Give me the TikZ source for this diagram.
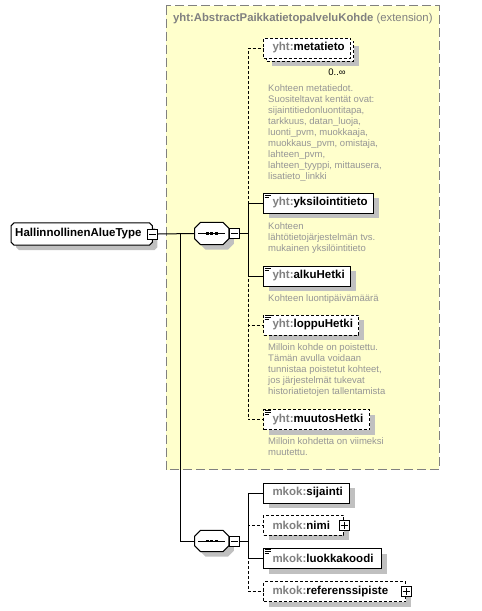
\documentclass[tikz,border=0pt]{standalone}
\usepackage{fontspec}
\setmainfont{Liberation Sans}
\usetikzlibrary{shadows,calc}
\definecolor{ylw}{RGB}{255,255,204}
\definecolor{pfx}{RGB}{128,128,128}
\definecolor{descc}{RGB}{150,150,150}
\definecolor{shd}{RGB}{192,192,192}
\newcommand\elab[2]{\hspace*{9pt}\textcolor{pfx}{#1:}#2}
% octagon (chamfered) outline around a node: [opts]{node}{chamfer}{offset}
\newcommand\octo[4][]{%
  \path[#1] ($(#2.north west)+(#3+#4,#4)$) -- ($(#2.north east)+(-#3+#4,#4)$)
    -- ($(#2.north east)+(#4,#3+#4)$) -- ($(#2.south east)+(#4,-#3+#4)$)
    -- ($(#2.south east)+(-#3+#4,#4)$) -- ($(#2.south west)+(#3+#4,#4)$)
    -- ($(#2.south west)+(#4,-#3+#4)$) -- ($(#2.north west)+(#4,#3+#4)$) -- cycle;}
\newcommand\minussign[1]{\draw[line width=1pt] ($(#1.west)+(2,0)$) -- ($(#1.east)+(-2,0)$);}
\newcommand\plussign[1]{\draw[line width=1pt] ($(#1.west)+(2,0)$) -- ($(#1.east)+(-2,0)$);
  \draw[line width=1pt] ($(#1.north)+(0,2)$) -- ($(#1.south)+(0,-2)$);}
\newcommand\docicon[1]{%
  \draw[line width=.7pt] ($(#1.north west)+(1.5,1.2)$) -- ++(6,0);
  \draw[line width=.7pt] ($(#1.north west)+(1.5,3.2)$) -- ++(6,0);
  \draw[line width=.7pt] ($(#1.north west)+(1.5,5.2)$) -- ++(4.5,0);}
\begin{document}
\begin{tikzpicture}[x=1pt,y=-1pt,
  box/.style={draw, fill=white, line width=1pt, inner sep=0pt, minimum height=20pt,
    text width=#1, align=left, anchor=west, font=\fontsize{11.5}{13}\selectfont\bfseries},
  shad/.style={drop shadow={shadow xshift=5pt, shadow yshift=-5pt, opacity=1, fill=shd}},
  opt/.style={dash pattern=on 3pt off 2pt},
  link/.style={line width=1pt},
  btn/.style={draw, fill=white, line width=1pt, minimum size=10pt, inner sep=0pt},
  desc/.style={anchor=north west, inner sep=0pt, text=descc, font=\fontsize{9.5}{11}\selectfont, align=left},
  holder/.style={inner sep=0pt, anchor=west}]
\useasboundingbox (0,0) rectangle (482,611);
% extension area
\draw[fill=ylw, draw=pfx, line width=1pt, dash pattern=on 9pt off 4pt] (166,5.5) rectangle (439,469.5);
\node[anchor=west, inner sep=0pt, text=pfx, font=\fontsize{11.3}{13}\selectfont] (title) at (173,19)
  {\textbf{yht:AbstractPaikkatietopalveluKohde} (extension)};

% root
\node[holder, minimum width=141pt, minimum height=22pt] (root) at (11,234) {};
\octo[fill=shd]{root}{3}{5}
\octo[draw, fill=white, line width=1pt]{root}{3}{0}
\node[anchor=west, inner sep=0pt, font=\fontsize{11.5}{13}\selectfont\bfseries] (rootlbl) at ($(root.west)+(4,0)$) {HallinnollinenAlueType};
\node[btn] (rootm) at (root.east) {};
\minussign{rootm}

% sequence 1
\node[holder, minimum width=34pt, minimum height=22pt] (seq1) at (194.5,233.5) {};
\octo[fill=shd]{seq1}{6}{5}
\octo[draw, fill=white, line width=1pt]{seq1}{6}{0}
\draw[line width=1pt] ($(seq1.west)+(3.5,0)$) -- ($(seq1.east)+(-3.5,0)$);
\foreach \d in {-4.5,0,4.5}{\fill ($(seq1.center)+(\d-1.3,-1.3)$) rectangle ++(2.6,2.6);}
\node[btn, anchor=west] (seq1m) at (seq1.east) {};
\minussign{seq1m}

% sequence 2
\node[holder, minimum width=34pt, minimum height=21pt] (seq2) at (194.5,541) {};
\octo[fill=shd]{seq2}{6}{5}
\octo[draw, fill=white, line width=1pt]{seq2}{6}{0}
\draw[line width=1pt] ($(seq2.west)+(3.5,0)$) -- ($(seq2.east)+(-3.5,0)$);
\foreach \d in {-4.5,0,4.5}{\fill ($(seq2.center)+(\d-1.3,-1.3)$) rectangle ++(2.6,2.6);}
\node[btn, anchor=west] (seq2m) at (seq2.east) {};
\minussign{seq2m}

% elements of the extension
\node[box=87pt, opt, shad] (metaback) at (266,51) {};
\node[box=87pt, opt] (meta) at (263,48) {\elab{yht}{metatieto}};
\node[inner sep=0pt, font=\fontsize{9.5}{11}\selectfont] (metamult) at (337,72) {0..∞};
\node[desc] (metadesc) at (268,84.4) {Kohteen metatiedot.\\Suositeltavat kentät ovat:\\sijaintitiedonluontitapa,\\tarkkuus, datan\_luoja,\\luonti\_pvm, muokkaaja,\\muokkaus\_pvm, omistaja,\\lahteen\_pvm,\\lahteen\_tyyppi, mittausera,\\lisatieto\_linkki};

\node[box=110pt, shad] (yks) at (263,203) {\elab{yht}{yksilointitieto}};
\docicon{yks}
\node[desc] (yksdesc) at (268,222.4) {Kohteen\\lähtötietojärjestelmän tvs.\\mukainen yksilöintitieto};

\node[box=87pt, shad] (alku) at (263,276) {\elab{yht}{alkuHetki}};
\docicon{alku}
\node[desc] (alkudesc) at (268,294.4) {Kohteen luontipäivämäärä};

\node[box=95pt, opt, shad] (loppu) at (263,325) {\elab{yht}{loppuHetki}};
\docicon{loppu}
\node[desc] (loppudesc) at (268,343.4) {Milloin kohde on poistettu.\\Tämän avulla voidaan\\tunnistaa poistetut kohteet,\\jos järjestelmät tukevat\\historiatietojen tallentamista};

\node[box=106pt, opt, shad] (muutos) at (263,419.5) {\elab{yht}{muutosHetki}};
\docicon{muutos}
\node[desc] (muutosdesc) at (268,437.4) {Milloin kohdetta on viimeksi\\muutettu.};

% elements of the type
\node[box=86pt, shad] (sij) at (263,493) {\elab{mkok}{sijainti}};
\node[box=80pt, opt, shad] (nimi) at (263,525) {\elab{mkok}{nimi}};
\node[btn] (nimip) at (nimi.east) {};
\plussign{nimip}
\node[box=118pt, shad] (luokka) at (263,558.5) {\elab{mkok}{luokkakoodi}};
\docicon{luokka}
\node[box=142pt, opt, shad] (ref) at (263,591.5) {\elab{mkok}{referenssipiste}};
\node[btn] (refp) at (ref.east) {};
\plussign{refp}

% connectors
\coordinate (j0) at (180,233.5);
\coordinate (j1) at (248,233.5);
\coordinate (j2) at (248,541);
\draw[link] (rootm.east) -- (seq1.west);
\draw[link] (j0) |- (seq2.west);
\draw[link] (seq1m.east) -- (j1);
\draw[link, opt] (j1) |- (meta.west);
\draw[link, opt] (j1) |- (loppu.west);
\draw[link, opt] (j1) |- (muutos.west);
\draw[link] (j1) |- (yks.west);
\draw[link] (j1) |- (alku.west);
\draw[link] (seq2m.east) -- (j2);
\draw[link, opt] (j2) |- (nimi.west);
\draw[link, opt] (j2) |- (ref.west);
\draw[link] (j2) |- (sij.west);
\draw[link] (j2) |- (luokka.west);
\end{tikzpicture}
\end{document}
